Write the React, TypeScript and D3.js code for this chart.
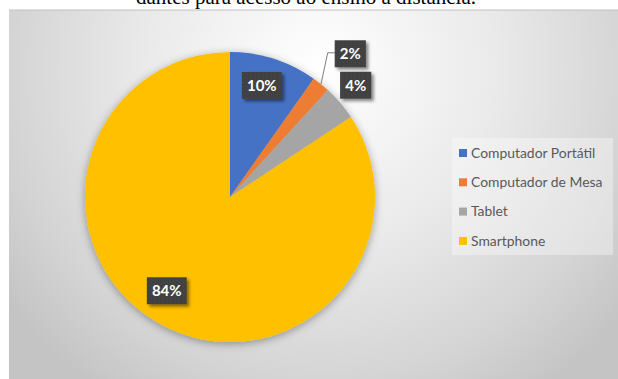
import React from "react";
import * as d3 from "d3";

const categories = ["Computador Portátil", "Computador de Mesa", "Tablet", "Smartphone"];
const values = [9.8, 2.0, 3.9, 84.3];
const colors = ["#4472C4", "#ED7D31", "#A5A5A5", "#FFC000"];
const captionText = "dantes para acesso ao ensino a distância.";

const W = 618;
const H = 379;

export default function App() {
  const cx = 230;
  const cy = 197;
  const R = 145;

  const pie = d3
    .pie<number>()
    .sort(null)
    .value((d) => d)
    .startAngle(0)
    .endAngle(2 * Math.PI);
  const arcs = pie(values);
  const arcGen = d3.arc<d3.PieArcDatum<number>>().innerRadius(0).outerRadius(R);
  const total = d3.sum(values);

  // label placement (layout only)
  const labelFactor = [0.8, 1.29, 1.16, 0.78];
  const labelAngleShift = [-0.03, 0.02, -0.02, 0.1];

  const legendX = 452;
  const legendY = 138;
  const legendRow = 29.3;

  return (
    <svg
      width={W}
      height={H}
      style={{ position: "absolute", left: 0, top: 0, display: "block" }}
    >
      <defs>
        <radialGradient
          id="bg"
          gradientUnits="userSpaceOnUse"
          cx={320}
          cy={70}
          r={390}
        >
          <stop offset="0" stopColor="#ffffff" />
          <stop offset="0.45" stopColor="#eaeaea" />
          <stop offset="0.8" stopColor="#d4d4d4" />
          <stop offset="1" stopColor="#c4c4c4" />
        </radialGradient>
        <filter id="pieShadow" x="-20%" y="-20%" width="140%" height="140%">
          <feDropShadow dx="0" dy="2" stdDeviation="4" floodColor="#000" floodOpacity="0.35" />
        </filter>
        <filter id="boxShadow" x="-30%" y="-30%" width="170%" height="170%">
          <feDropShadow dx="2.5" dy="2.5" stdDeviation="1.6" floodColor="#000" floodOpacity="0.45" />
        </filter>
        <pattern id="dots" width="4" height="4" patternUnits="userSpaceOnUse">
          <rect width="4" height="4" fill="#404040" />
          <rect x="1" y="1" width="1" height="1" fill="#4d4d4d" />
          <rect x="3" y="3" width="1" height="1" fill="#4a4a4a" />
        </pattern>
      </defs>

      <text
        x={306}
        y={4}
        textAnchor="middle"
        fontFamily="'Liberation Serif', 'Times New Roman', serif"
        fontSize={21}
        fill="#000"
      >
        {captionText}
      </text>

      <rect x={9} y={10} width={W - 9} height={H - 10} fill="url(#bg)" />
      <line x1={9} x2={W} y1={10} y2={10} stroke="#c0c0c0" strokeWidth={1} />

      <g transform={`translate(${cx},${cy})`}>
        <g filter="url(#pieShadow)">
          {arcs.map((a, i) => (
            <path key={i} d={arcGen(a) || ""} fill={colors[i]} />
          ))}
        </g>
        {arcs.map((a, i) => {
          const mid = (a.startAngle + a.endAngle) / 2;
          const ang = mid + labelAngleShift[i];
          const lr = R * labelFactor[i];
          const lx = lr * Math.sin(ang);
          const ly = -lr * Math.cos(ang);
          const label = `${Math.round((a.value / total) * 100)}%`;
          const digits = label.length - 1;
          const bw = digits * 8.7 + 12.5 + 10;
          const bh = 27;
          const bx = lx - bw / 2;
          const by = ly - bh / 2;
          const leader =
            labelFactor[i] > 1.2
              ? [
                  [R * Math.sin(mid), -R * Math.cos(mid)],
                  [bx - 7, ly - 1],
                  [bx, ly - 1],
                ]
              : null;
          return (
            <g key={`l${i}`}>
              {leader && (
                <path
                  d={d3.line()(leader as [number, number][]) || ""}
                  fill="none"
                  stroke="#7f7f7f"
                  strokeWidth={1}
                />
              )}
              <rect
                x={bx}
                y={by}
                width={bw}
                height={bh}
                fill="url(#dots)"
                filter="url(#boxShadow)"
              />
              <text
                x={lx}
                y={ly}
                dy="0.36em"
                textAnchor="middle"
                fontFamily="Lato, 'Open Sans', sans-serif"
                fontWeight="bold"
                fontSize={15}
                fill="#ffffff"
              >
                {label}
              </text>
            </g>
          );
        })}
      </g>

      <rect
        x={legendX}
        y={legendY}
        width={161}
        height={117}
        fill="#ffffff"
        fillOpacity={0.35}
      />
      {categories.map((c, i) => {
        const y = legendY + 15 + i * legendRow;
        return (
          <g key={c}>
            <rect x={459} y={y - 4} width={8} height={8} fill={colors[i]} />
            <text
              x={471}
              y={y}
              dy="0.35em"
              fontFamily="Lato, 'Open Sans', sans-serif"
              fontSize={13.9}
              fill="#595959"
            >
              {c}
            </text>
          </g>
        );
      })}
    </svg>
  );
}
